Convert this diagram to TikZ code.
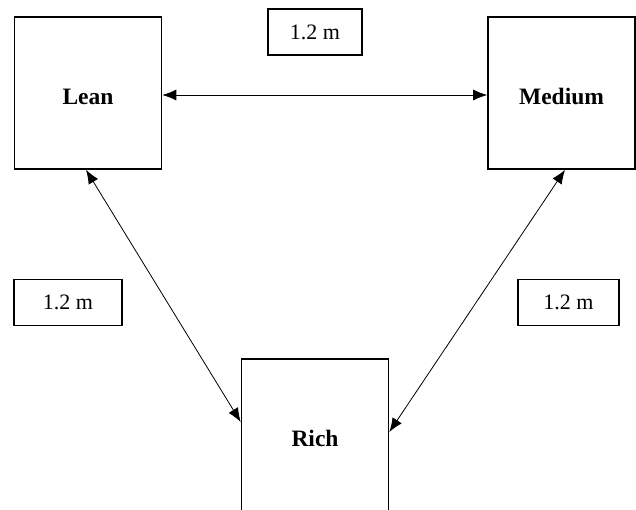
\documentclass[tikz,border=0pt]{standalone}
\usepackage{fontspec}
\setmainfont{Liberation Serif}
\usetikzlibrary{arrows.meta}
\begin{document}
\begin{tikzpicture}[x=1pt,y=-1pt,
  bigbox/.style={draw, line width=1.6pt, minimum width=147pt, minimum height=152pt, inner sep=0pt, text height=22pt, text depth=0pt, font=\fontsize{23.5}{26}\selectfont\bfseries},
  lbl/.style={draw, line width=1.6pt, minimum height=46pt, inner sep=0pt, font=\fontsize{22}{26}\selectfont},
  conn/.style={line width=0.8pt, {Latex[length=14pt,width=11pt]}-{Latex[length=14pt,width=11pt]}}]
\useasboundingbox (0,0) rectangle (636,509);
\clip (0,0) rectangle (636,509);
\node[bigbox] (lean) at (88,93) {Lean};
\node[bigbox] (medium) at (561.5,93) {Medium};
\node[bigbox] (rich) at (315,435) {Rich};
\node[lbl, minimum width=94pt] (ltop) at (315,32) {1.2 m};
\node[lbl, minimum width=108pt] (lleft) at (68,302.5) {1.2 m};
\node[lbl, minimum width=101pt] (lright) at (568.5,302.5) {1.2 m};
\draw[conn] ([yshift=-2pt]lean.east) -- ([yshift=-2pt]medium.west);
\draw[conn] ([xshift=-2pt]lean.south) -- ([yshift=13pt]rich.west);
\draw[conn] ([xshift=3.5pt]medium.south) -- ([yshift=3pt]rich.east);
\end{tikzpicture}
\end{document}
